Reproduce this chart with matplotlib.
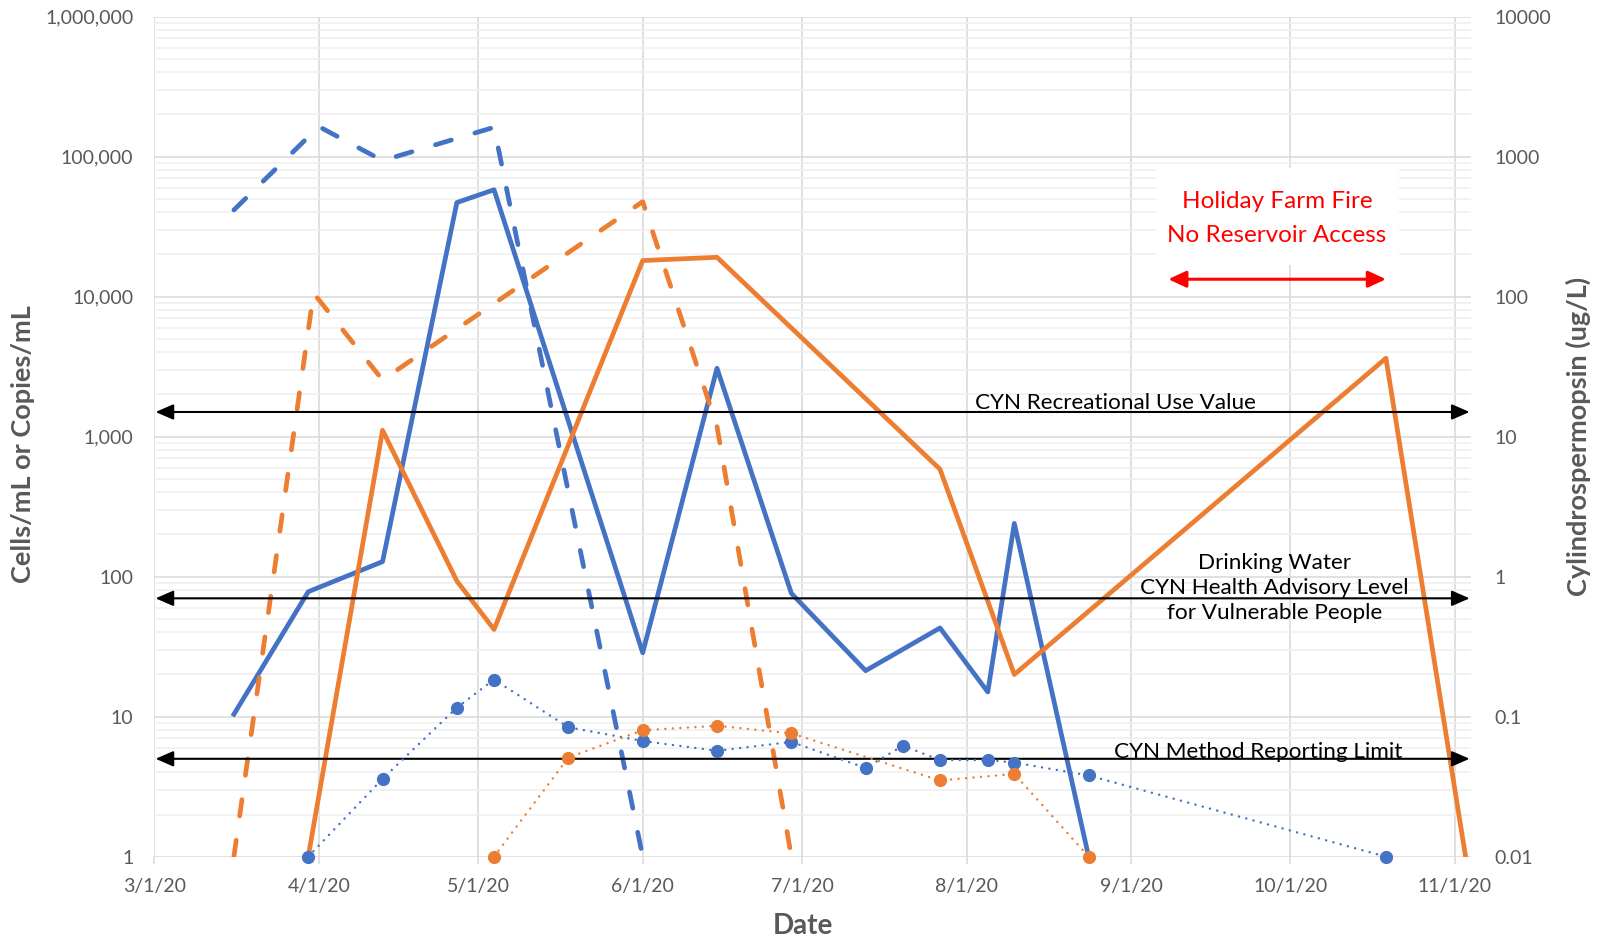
import datetime as dt
import matplotlib
matplotlib.use('Agg')
import matplotlib.pyplot as plt
import matplotlib.dates as mdates
import matplotlib.ticker as tck
from matplotlib.patches import Rectangle
from matplotlib.transforms import blended_transform_factory

plt.rcParams['font.family'] = ['Lato', 'DejaVu Sans']

YEAR = 2020


def to_dates(days):
    # 'm/d' strings -> datetimes in the sampling year
    out = []
    for s in days:
        m, d = s.split('/')
        out.append(dt.datetime(YEAR, int(m), int(d)))
    return out


# site 1 (blue): cell counts, gene copies (cells/mL or copies/mL), toxin (ug/L)
s1_cell_dates = ['3/16', '3/30', '4/13', '4/27', '5/4', '6/1', '6/15', '6/29',
                 '7/13', '7/27', '8/5', '8/10', '8/24']
s1_cells = [10.4, 78, 128, 47000, 58000, 28.6, 3080, 76, 21.3, 43, 15, 240, 1]

s1_copy_dates = ['3/16', '4/1', '4/13', '5/4', '6/1']
s1_copies = [41600, 164000, 93700, 162000, 1]

s1_cyn_dates = ['3/30', '4/13', '4/27', '5/4', '5/18', '6/1', '6/15', '6/29',
                '7/13', '7/20', '7/27', '8/5', '8/10', '8/24', '10/19']
s1_cyn = [0.01, 0.036, 0.116, 0.184, 0.084, 0.067, 0.057, 0.066,
          0.043, 0.062, 0.049, 0.049, 0.047, 0.038, 0.01]

# site 2 (orange)
s2_cell_dates = ['3/30', '4/13', '4/27', '5/4', '6/1', '6/15', '7/27', '8/10',
                 '10/19', '11/3']
s2_cells = [1, 1110, 93, 42, 18100, 19100, 585, 20, 3630, 1]

s2_copy_dates = ['3/16', '3/31', '4/13', '6/1', '6/15', '6/29']
s2_copies = [1, 10600, 2540, 47700, 1180, 1]

s2_cyn_dates = ['5/4', '5/18', '6/1', '6/15', '6/29', '7/27', '8/10', '8/24']
s2_cyn = [0.01, 0.051, 0.080, 0.086, 0.076, 0.035, 0.039, 0.01]

# axis decades
left_ticks = [1, 10, 100, 1000, 10000, 100000, 1000000]
right_ticks = [0.01, 0.1, 1, 10, 100, 1000, 10000]

# CYN guideline levels (ug/L)
guide_vals = [15, 0.7, 0.05]
guide_labels = ['CYN Recreational Use Value',
                'Drinking Water\nCYN Health Advisory Level\nfor Vulnerable People',
                'CYN Method Reporting Limit']

# fire closure window
fire_dates = ['9/8', '10/19']
fire_label = 'Holiday Farm Fire\nNo Reservoir Access'

blue = '#4472C4'
orange = '#ED7D31'
gray = '#595959'

fig = plt.figure(figsize=(16.07, 9.39), dpi=100)
ax = fig.add_axes([0.0960, 0.0877, 0.8193, 0.8946])
ax2 = ax.twinx()

# cells / copies on the left axis
lw = 3.4
dash = (0, (3.5, 5.2))
ax.plot(to_dates(s1_cell_dates), s1_cells, color=blue, lw=lw, zorder=3)
ax.plot(to_dates(s2_cell_dates), s2_cells, color=orange, lw=lw, zorder=3)
ax.plot(to_dates(s1_copy_dates), s1_copies, color=blue, lw=lw, linestyle=dash,
        dash_capstyle='round', zorder=3)
ax.plot(to_dates(s2_copy_dates), s2_copies, color=orange, lw=lw, linestyle=dash,
        dash_capstyle='round', zorder=3)

# toxin on the right axis
dots = (0, (0.01, 3.0))
ax2.plot(to_dates(s1_cyn_dates), s1_cyn, color=blue, lw=1.8, linestyle=dots,
         dash_capstyle='round', marker='o', ms=8.5, zorder=3, clip_on=False)
ax2.plot(to_dates(s2_cyn_dates), s2_cyn, color=orange, lw=1.8, linestyle=dots,
         dash_capstyle='round', marker='o', ms=8.5, zorder=3, clip_on=False)

# axes
ax.set_yscale('log')
ax.set_ylim(left_ticks[0], left_ticks[-1])
ax2.set_yscale('log')
ax2.set_ylim(right_ticks[0], right_ticks[-1])
ax.set_xlim(dt.datetime(YEAR, 3, 1), dt.datetime(YEAR, 11, 4))

ax.xaxis.set_major_locator(mdates.MonthLocator())
ax.xaxis.set_major_formatter(tck.FuncFormatter(
    lambda v, p: '{0.month}/{0.day}/{1}'.format(mdates.num2date(v), mdates.num2date(v).year % 100)))

for a, ticks, fmt in ((ax, left_ticks, lambda v, p: f'{v:,.0f}'),
                      (ax2, right_ticks, lambda v, p: f'{v:g}')):
    minors = [m * t for t in ticks[:-1] for m in range(2, 10)]
    a.yaxis.set_major_locator(tck.FixedLocator(ticks))
    a.yaxis.set_minor_locator(tck.FixedLocator(minors))
    a.yaxis.set_major_formatter(tck.FuncFormatter(fmt))
    a.yaxis.set_minor_formatter(tck.NullFormatter())
    for s in a.spines.values():
        s.set_visible(False)

ax.set_axisbelow(True)
ax.grid(True, which='major', color='#d9d9d9', lw=1.1)
ax.grid(True, which='minor', axis='y', color='#efefef', lw=1.1)

ax.tick_params(axis='x', which='major', direction='out', length=5, width=1.1,
               color='#d9d9d9', labelsize=14, labelcolor=gray, pad=10.5)
ax.tick_params(axis='y', which='major', length=0, labelsize=14, labelcolor=gray, pad=15)
ax.tick_params(axis='y', which='minor', length=0, labelleft=False)
ax2.tick_params(axis='y', which='major', length=0, labelsize=14, labelcolor=gray, pad=17)
ax2.tick_params(axis='y', which='minor', length=0, labelright=False)

ax.set_ylabel('Cells/mL or Copies/mL', fontsize=19.5, fontweight='bold', color=gray, va='center')
ax.yaxis.set_label_coords(-0.0995, 0.491)
ax2.set_ylabel('Cylindrospermopsin (ug/L)', fontsize=19.5, fontweight='bold', color=gray, va='center')
ax2.yaxis.set_label_coords(1.0815, 0.5)
ax.set_xlabel('Date', fontsize=20, fontweight='bold', color=gray, va='center')
ax.xaxis.set_label_coords(0.493, -0.083)

# guideline arrows spanning the plot
trans = blended_transform_factory(ax2.transAxes, ax2.transData)
for v in guide_vals:
    ax2.annotate('', xy=(0.999, v), xytext=(0.001, v), xycoords=trans, textcoords=trans,
                 arrowprops=dict(arrowstyle='<|-|>,head_length=1.08,head_width=0.47',
                                 mutation_scale=10, color='black', lw=1.5,
                                 shrinkA=0, shrinkB=0), zorder=2)

label_x = mdates.date2num(to_dates(['8/29', '9/28', '9/25']))
label_va = ['baseline', 'center', 'baseline']
label_dy = [2.4, 7.6, 0.5]
for x, v, txt, va, dy in zip(label_x, guide_vals, guide_labels, label_va, label_dy):
    ax2.annotate(txt, xy=(x, v), xytext=(0, dy), textcoords='offset points',
                 ha='center', va=va, fontsize=16.2, color='black', linespacing=1.3,
                 zorder=2)

# fire closure: white panel behind the note, then the note and its span arrow
ax.add_patch(Rectangle((0.7615, 0.7044), 0.1838, 0.1155, transform=ax.transAxes,
                       facecolor='white', edgecolor='none', zorder=1.5))
fd = mdates.date2num(to_dates(fire_dates))
mid = (fd[0] + fd[1]) / 2
ftrans = blended_transform_factory(ax.transData, ax.transAxes)
ax.annotate('', xy=(fd[1], 0.6874), xytext=(fd[0], 0.6874), xycoords=ftrans, textcoords=ftrans,
            arrowprops=dict(arrowstyle='<|-|>,head_length=1.08,head_width=0.5',
                            mutation_scale=10, color='red', lw=2.2, shrinkA=0, shrinkB=0))
ax.text(mid, 0.7598, fire_label, transform=ftrans, ha='center', va='center', color='red',
        fontsize=17.5, linespacing=1.75, zorder=4)

fig.savefig('out.png', dpi=100)
